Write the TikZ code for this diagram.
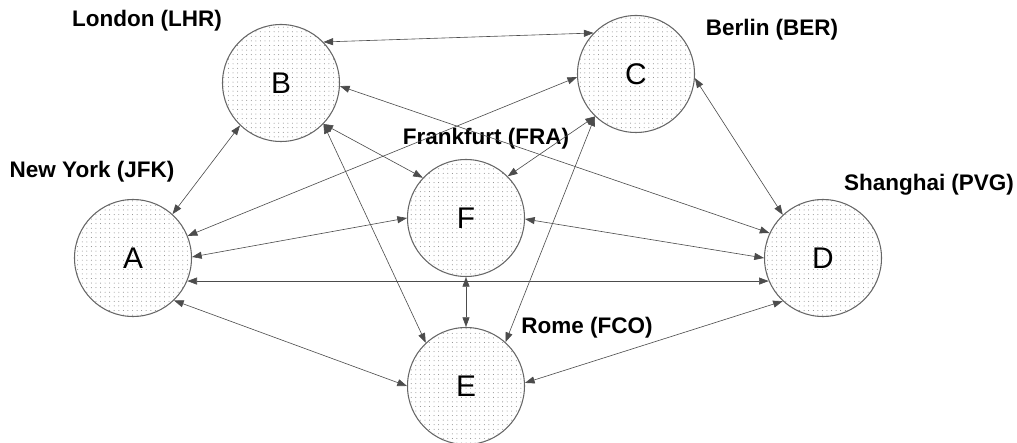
\documentclass[tikz,border=0pt]{standalone}
\usepackage{fontspec}
\setmainfont{Liberation Sans}
\usetikzlibrary{arrows.meta,patterns.meta,positioning}
\tikzset{>={Triangle[length=5.5pt,width=4pt]}}
\tikzset{city/.style={circle, draw=black!60, line width=0.6pt, pattern={Dots[radius=0.28pt,distance=2.6pt]}, pattern color=black!50, minimum size=2.34cm, inner sep=0pt, font=\fontsize{17}{20}\selectfont}}
\tikzset{place/.style={font=\bfseries\fontsize{12.8}{15}\selectfont}}
\tikzset{link/.style={<->, draw=black!70, line width=0.35pt}}
\begin{document}
\begin{tikzpicture}
\useasboundingbox (0,0) rectangle (20.34,8.86);
% airports
\node[city] (A) at (2.66,3.70) {A};
\node[city] (B) at (5.62,7.20) {B};
\node[city] (C) at (12.72,7.38) {C};
\node[city] (D) at (16.46,3.70) {D};
\node[city] (E) at (9.32,1.14) {E};
\node[city] (F) at (9.32,4.50) {F};
% names
\node[place] (lhr) at (2.94,8.44) {London (LHR)};
\node[place] (jfk) at (1.84,5.42) {New York (JFK)};
\node[place] (ber) at (15.44,8.26) {Berlin (BER)};
\node[place] (fra) at (9.72,6.08) {Frankfurt (FRA)};
\node[place] (pvg) at (18.58,5.16) {Shanghai (PVG)};
\node[place] (fco) at (11.74,2.30) {Rome (FCO)};
% routes
\draw[link] (A.48) -- (B.-134);
\draw[link] (A.22) -- (C.183);
\draw[link] (A.1) -- (F.180);
\draw[link] (A.-23) -- (D.203);
\draw[link] (A.-46) -- (E.180);
\draw[link] (B.44) -- (C.136);
\draw[link] (B.-3) -- (D.155);
\draw[link] (B.-44) -- (F.137);
\draw[link] (B.-44) -- (E.133);
\draw[link] (C.226) -- (F.45);
\draw[link] (C.226) -- (E.48);
\draw[link] (C.-4) -- (D.133);
\draw[link] (F.-1) -- (D.180);
\draw[link] (F.-90) -- (E.90);
\draw[link] (E.3) -- (D.227);
\end{tikzpicture}
\end{document}
